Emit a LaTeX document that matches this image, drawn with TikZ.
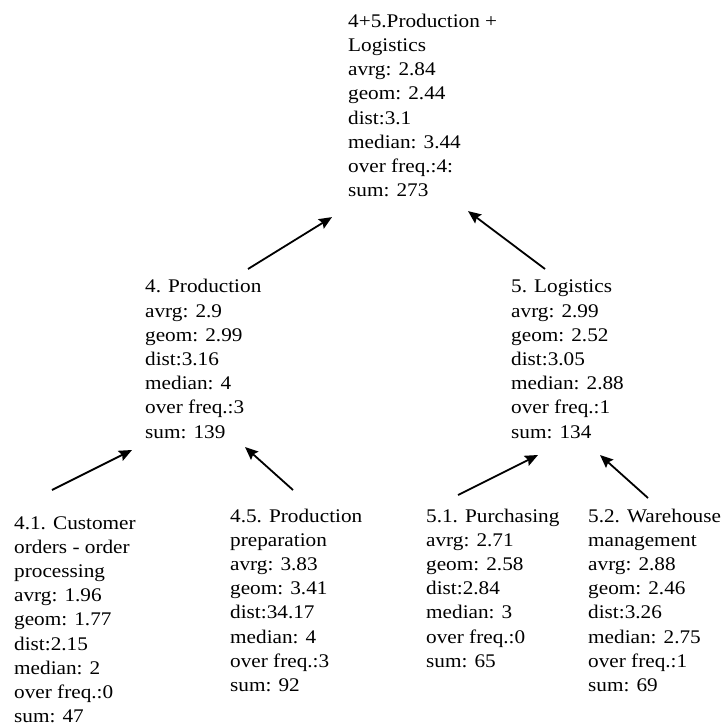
\documentclass[tikz,border=0pt]{standalone}
\usepackage{fontspec}
\setmainfont{Liberation Serif}[FakeStretch=1.1]
\usetikzlibrary{arrows.meta}
\begin{document}
\begin{tikzpicture}[x=1pt,y=-1pt,
  info/.style={anchor=north west,inner sep=0pt,align=left,
    font=\fontsize{19.3}{24.2}\selectfont},
  link/.style={line width=1.8pt,-{Stealth[length=13pt,width=11pt,inset=2pt]}}]
\useasboundingbox (0,0) rectangle (724,727);
\node[info] (top) at (348,10.1) {\strut 4+5.Production +\\Logistics\\avrg: 2.84\\geom: 2.44\\dist:3.1\\median: 3.44\\over freq.:4:\\sum: 273};
\node[info] (n4) at (145,275.8) {\strut 4. Production\\avrg: 2.9\\geom: 2.99\\dist:3.16\\median: 4\\over freq.:3\\sum: 139};
\node[info] (n5) at (511,275.8) {\strut 5. Logistics\\avrg: 2.99\\geom: 2.52\\dist:3.05\\median: 2.88\\over freq.:1\\sum: 134};
\node[info] (n41) at (14,512) {\strut 4.1. Customer\\orders - order\\processing\\avrg: 1.96\\geom: 1.77\\dist:2.15\\median: 2\\over freq.:0\\sum: 47};
\node[info] (n45) at (230,505) {\strut 4.5. Production\\preparation\\avrg: 3.83\\geom: 3.41\\dist:34.17\\median: 4\\over freq.:3\\sum: 92};
\node[info] (n51) at (426,505) {\strut 5.1. Purchasing\\avrg: 2.71\\geom: 2.58\\dist:2.84\\median: 3\\over freq.:0\\sum: 65};
\node[info] (n52) at (588,505) {\strut 5.2. Warehouse\\management\\avrg: 2.88\\geom: 2.46\\dist:3.26\\median: 2.75\\over freq.:1\\sum: 69};
\draw[link] ([shift={(103,-6.8)}]n4.north west) -- ([shift={(-16,207)}]top.north west);
\draw[link] ([shift={(34,-6.8)}]n5.north west) -- ([shift={(120,201)}]top.north west);
\draw[link] ([shift={(38,-22)}]n41.north west) -- ([shift={(-13,174.2)}]n4.north west);
\draw[link] ([shift={(63,-15)}]n45.north west) -- ([shift={(100,171.2)}]n4.north west);
\draw[link] ([shift={(32,-10)}]n51.north west) -- ([shift={(27,179.2)}]n5.north west);
\draw[link] ([shift={(60,-7)}]n52.north west) -- ([shift={(89,179.2)}]n5.north west);
\end{tikzpicture}
\end{document}
